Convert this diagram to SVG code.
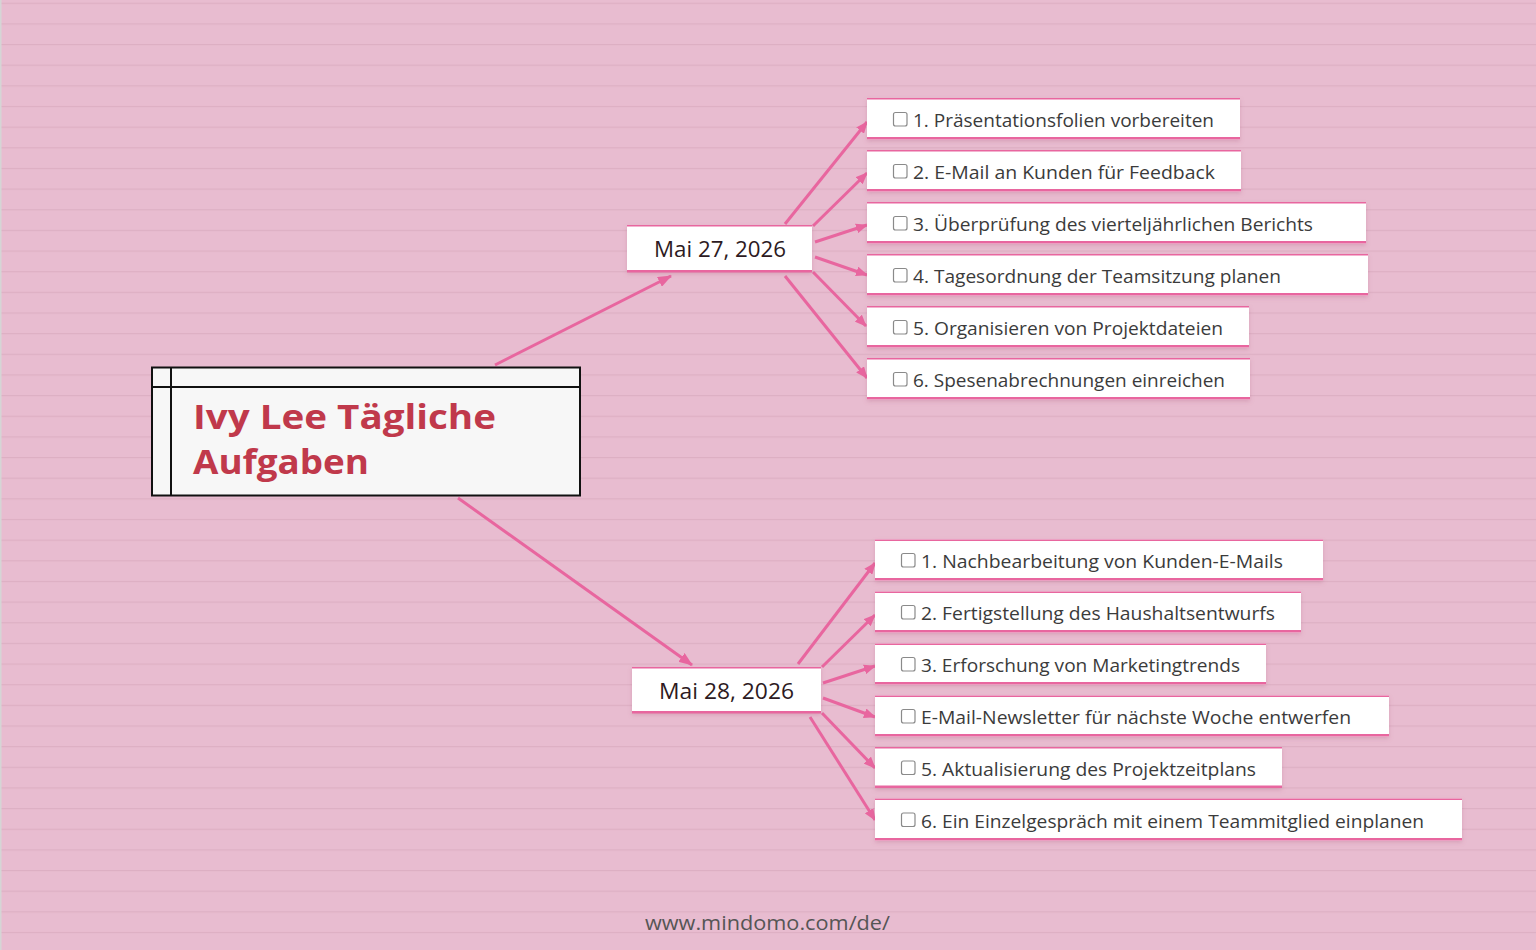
<svg xmlns="http://www.w3.org/2000/svg" width="1536" height="950" viewBox="0 0 1536 950">
<defs>
<pattern id="lines" x="0" y="2.7" width="1536" height="20.65" patternUnits="userSpaceOnUse">
<rect x="0" y="0" width="1536" height="1.2" fill="#ddafc3"/>
</pattern>
<marker id="arr" viewBox="0 0 14 11" refX="13" refY="5.5" markerWidth="14" markerHeight="11" markerUnits="userSpaceOnUse" orient="auto">
<path d="M0,0 L14,5.5 L0,11 Z" fill="#e8669f"/>
</marker>
<marker id="arrs" viewBox="0 0 12 10" refX="11" refY="5" markerWidth="12" markerHeight="10" markerUnits="userSpaceOnUse" orient="auto">
<path d="M0,0 L12,5 L0,10 Z" fill="#e8669f"/>
</marker>
<filter id="sh" x="-5%" y="-20%" width="110%" height="150%">
<feDropShadow dx="0" dy="2" stdDeviation="2" flood-color="#a0506f" flood-opacity="0.25"/>
</filter>
</defs>
<style>
.bg{fill:#e8bcd0}
.conn line{stroke:#e8669f;stroke-width:3;marker-end:url(#arrs)}
.conn line.main{marker-end:url(#arr)}
.box{fill:#ffffff;filter:url(#sh)}
.edge{fill:#e8669f}
.date{font-family:"Open Sans","Noto Sans",sans-serif;font-size:22px;fill:#2d1a22;text-anchor:middle}
.task{font-family:"Open Sans","Noto Sans",sans-serif;font-size:17.5px;fill:#3b3b3b}
.cb{fill:#ffffff;stroke:#8a8a8a;stroke-width:1.2}
.title{font-family:"Open Sans","Noto Sans",sans-serif;font-weight:bold;font-size:34px;fill:#c0394b}
.foot{font-family:"Open Sans","Noto Sans",sans-serif;font-size:20px;fill:#555555;text-anchor:middle}
</style>
<rect class="bg" x="0" y="0" width="1536" height="950"/>
<rect fill="url(#lines)" x="0" y="0" width="1536" height="950"/>
<rect x="0" y="0" width="1.5" height="950" fill="#d5d5d5"/>

<g id="connectors" class="conn">
<line class="main" x1="495" y1="365" x2="671" y2="276"/>
<line class="main" x1="458" y1="498" x2="692" y2="665"/>
<line x1="785" y1="224" x2="867" y2="122"/>
<line x1="813" y1="226" x2="867" y2="173"/>
<line x1="815" y1="242" x2="867" y2="225"/>
<line x1="815" y1="257" x2="867" y2="275"/>
<line x1="813" y1="272" x2="866" y2="326"/>
<line x1="785" y1="276" x2="867" y2="378"/>
<line x1="798" y1="664" x2="875" y2="563"/>
<line x1="822" y1="667" x2="875" y2="615"/>
<line x1="823" y1="683" x2="875" y2="666"/>
<line x1="823" y1="698" x2="875" y2="717"/>
<line x1="822" y1="713" x2="875" y2="768"/>
<line x1="810" y1="717" x2="875" y2="820"/>
</g>

<g id="root">
<rect x="152" y="367.5" width="428" height="128" fill="#f7f7f7" stroke="#111111" stroke-width="2"/>
<line x1="171" y1="367.5" x2="171" y2="495.5" stroke="#111111" stroke-width="2"/>
<line x1="152" y1="387" x2="580" y2="387" stroke="#111111" stroke-width="2"/>
<text class="title" x="193" y="429" textLength="303" lengthAdjust="spacingAndGlyphs">Ivy Lee Tägliche</text>
<text class="title" x="193" y="474" textLength="176" lengthAdjust="spacingAndGlyphs">Aufgaben</text>
</g>

<g id="date1">
<rect class="box" x="627" y="225" width="185" height="47"/>
<rect class="edge" x="627" y="225" width="185" height="1.5"/>
<rect class="edge" x="627" y="270" width="185" height="2.5"/>
<text class="date" x="720" y="257" textLength="132" lengthAdjust="spacingAndGlyphs">Mai 27, 2026</text>
</g>

<g id="date2">
<rect class="box" x="632" y="667" width="189" height="46"/>
<rect class="edge" x="632" y="667" width="189" height="1.5"/>
<rect class="edge" x="632" y="711" width="189" height="2.5"/>
<text class="date" x="726.5" y="699" textLength="135" lengthAdjust="spacingAndGlyphs">Mai 28, 2026</text>
</g>

<g id="t1-1">
<rect class="box" x="867" y="98" width="373" height="41.5"/>
<rect class="edge" x="867" y="98" width="373" height="1.5"/>
<rect class="edge" x="867" y="137" width="373" height="2.5"/>
<rect class="cb" x="893.5" y="112.5" width="13.5" height="13.5" rx="2"/>
<text class="task" x="913" y="127" textLength="301" lengthAdjust="spacingAndGlyphs">1. Präsentationsfolien vorbereiten</text>
</g>
<g id="t1-2">
<rect class="box" x="867" y="150" width="374" height="41.5"/>
<rect class="edge" x="867" y="150" width="374" height="1.5"/>
<rect class="edge" x="867" y="189" width="374" height="2.5"/>
<rect class="cb" x="893.5" y="164.5" width="13.5" height="13.5" rx="2"/>
<text class="task" x="913" y="179" textLength="302" lengthAdjust="spacingAndGlyphs">2. E-Mail an Kunden für Feedback</text>
</g>
<g id="t1-3">
<rect class="box" x="867" y="202" width="499" height="41.5"/>
<rect class="edge" x="867" y="202" width="499" height="1.5"/>
<rect class="edge" x="867" y="241" width="499" height="2.5"/>
<rect class="cb" x="893.5" y="216.5" width="13.5" height="13.5" rx="2"/>
<text class="task" x="913" y="231" textLength="400" lengthAdjust="spacingAndGlyphs">3. Überprüfung des vierteljährlichen Berichts</text>
</g>
<g id="t1-4">
<rect class="box" x="867" y="254" width="501" height="41.5"/>
<rect class="edge" x="867" y="254" width="501" height="1.5"/>
<rect class="edge" x="867" y="293" width="501" height="2.5"/>
<rect class="cb" x="893.5" y="268.5" width="13.5" height="13.5" rx="2"/>
<text class="task" x="913" y="283" textLength="368" lengthAdjust="spacingAndGlyphs">4. Tagesordnung der Teamsitzung planen</text>
</g>
<g id="t1-5">
<rect class="box" x="867" y="306" width="382" height="41.5"/>
<rect class="edge" x="867" y="306" width="382" height="1.5"/>
<rect class="edge" x="867" y="345" width="382" height="2.5"/>
<rect class="cb" x="893.5" y="320.5" width="13.5" height="13.5" rx="2"/>
<text class="task" x="913" y="335" textLength="310" lengthAdjust="spacingAndGlyphs">5. Organisieren von Projektdateien</text>
</g>
<g id="t1-6">
<rect class="box" x="867" y="358" width="383" height="41.5"/>
<rect class="edge" x="867" y="358" width="383" height="1.5"/>
<rect class="edge" x="867" y="397" width="383" height="2.5"/>
<rect class="cb" x="893.5" y="372.5" width="13.5" height="13.5" rx="2"/>
<text class="task" x="913" y="387" textLength="312" lengthAdjust="spacingAndGlyphs">6. Spesenabrechnungen einreichen</text>
</g>

<g id="t2-1">
<rect class="box" x="875" y="539.5" width="448" height="41"/>
<rect class="edge" x="875" y="539.5" width="448" height="1.5"/>
<rect class="edge" x="875" y="578" width="448" height="2.5"/>
<rect class="cb" x="901.5" y="553.5" width="13.5" height="13.5" rx="2"/>
<text class="task" x="921" y="568" textLength="362" lengthAdjust="spacingAndGlyphs">1. Nachbearbeitung von Kunden-E-Mails</text>
</g>
<g id="t2-2">
<rect class="box" x="875" y="591.5" width="426" height="41"/>
<rect class="edge" x="875" y="591.5" width="426" height="1.5"/>
<rect class="edge" x="875" y="630" width="426" height="2.5"/>
<rect class="cb" x="901.5" y="605.5" width="13.5" height="13.5" rx="2"/>
<text class="task" x="921" y="620" textLength="354" lengthAdjust="spacingAndGlyphs">2. Fertigstellung des Haushaltsentwurfs</text>
</g>
<g id="t2-3">
<rect class="box" x="875" y="643.5" width="391" height="41"/>
<rect class="edge" x="875" y="643.5" width="391" height="1.5"/>
<rect class="edge" x="875" y="682" width="391" height="2.5"/>
<rect class="cb" x="901.5" y="657.5" width="13.5" height="13.5" rx="2"/>
<text class="task" x="921" y="672" textLength="319" lengthAdjust="spacingAndGlyphs">3. Erforschung von Marketingtrends</text>
</g>
<g id="t2-4">
<rect class="box" x="875" y="695.5" width="514" height="41"/>
<rect class="edge" x="875" y="695.5" width="514" height="1.5"/>
<rect class="edge" x="875" y="734" width="514" height="2.5"/>
<rect class="cb" x="901.5" y="709.5" width="13.5" height="13.5" rx="2"/>
<text class="task" x="921" y="724" textLength="430" lengthAdjust="spacingAndGlyphs">E-Mail-Newsletter für nächste Woche entwerfen</text>
</g>
<g id="t2-5">
<rect class="box" x="875" y="747" width="407" height="41"/>
<rect class="edge" x="875" y="747" width="407" height="1.5"/>
<rect class="edge" x="875" y="785.5" width="407" height="2.5"/>
<rect class="cb" x="901.5" y="761" width="13.5" height="13.5" rx="2"/>
<text class="task" x="921" y="775.5" textLength="335" lengthAdjust="spacingAndGlyphs">5. Aktualisierung des Projektzeitplans</text>
</g>
<g id="t2-6">
<rect class="box" x="875" y="798.5" width="587" height="42"/>
<rect class="edge" x="875" y="798.5" width="587" height="1.5"/>
<rect class="edge" x="875" y="838" width="587" height="2.5"/>
<rect class="cb" x="901.5" y="813" width="13.5" height="13.5" rx="2"/>
<text class="task" x="921" y="827.5" textLength="503" lengthAdjust="spacingAndGlyphs">6. Ein Einzelgespräch mit einem Teammitglied einplanen</text>
</g>

<text class="foot" x="767.5" y="930" textLength="245" lengthAdjust="spacingAndGlyphs">www.mindomo.com/de/</text>
</svg>
